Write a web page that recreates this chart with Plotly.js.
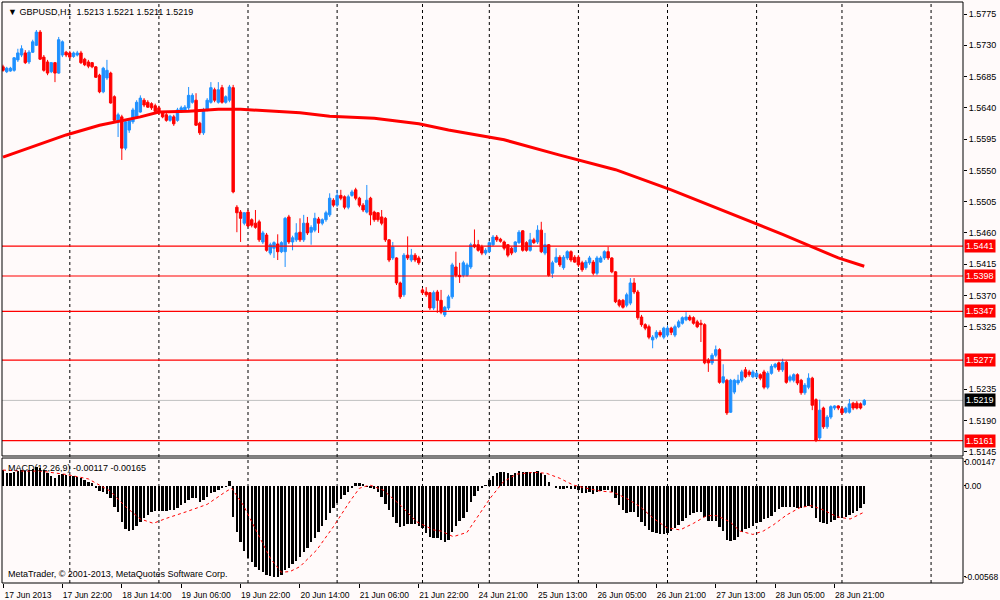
<!DOCTYPE html>
<html>
<head>
<meta charset="utf-8">
<script src="https://cdn.plot.ly/plotly-3.0.1.min.js"></script>
<style>html,body{margin:0;padding:0;background:#FFFAFA;}#chart{width:1000px;height:600px;}</style>
</head>
<body>
<div id="chart"></div>
<script>
// ---- Price data (GBPUSD H1), one value per bar ----
var openP = [1.5699,1.5692,1.5693,1.5694,1.5709,1.5716,1.5719,1.5706,1.5720,1.5730,
1.5749,1.5713,1.5706,1.5692,1.5705,1.5690,1.5716,1.5720,1.5719,1.5714,
1.5716,1.5719,1.5710,1.5706,1.5705,1.5699,1.5687,1.5663,1.5683,1.5690,
1.5656,1.5620,1.5627,1.5582,1.5608,1.5620,1.5627,1.5634,1.5651,1.5648,
1.5646,1.5643,1.5640,1.5633,1.5630,1.5622,1.5627,1.5622,1.5634,1.5635,
1.5640,1.5648,1.5651,1.5618,1.5604,1.5637,1.5648,1.5666,1.5648,1.5669,
1.5648,1.5651,1.5669,1.5497,1.5490,1.5474,1.5490,1.5479,1.5474,1.5476,
1.5447,1.5457,1.5431,1.5438,1.5444,1.5433,1.5433,1.5483,1.5447,1.5450,
1.5461,1.5450,1.5474,1.5461,1.5464,1.5480,1.5474,1.5479,1.5486,1.5507,
1.5500,1.5514,1.5512,1.5497,1.5514,1.5522,1.5510,1.5500,1.5490,1.5510,
1.5490,1.5489,1.5483,1.5481,1.5450,1.5424,1.5424,1.5388,1.5371,1.5428,
1.5421,1.5428,1.5424,1.5378,1.5375,1.5374,1.5352,1.5375,1.5363,1.5342,
1.5352,1.5368,1.5411,1.5399,1.5399,1.5399,1.5411,1.5443,1.5443,1.5440,
1.5431,1.5433,1.5443,1.5454,1.5451,1.5447,1.5443,1.5438,1.5433,1.5446,
1.5463,1.5446,1.5435,1.5450,1.5447,1.5464,1.5431,1.5443,1.5402,1.5418,
1.5425,1.5410,1.5424,1.5433,1.5425,1.5425,1.5417,1.5410,1.5417,1.5418,
1.5402,1.5418,1.5424,1.5433,1.5424,1.5404,1.5363,1.5363,1.5356,1.5359,
1.5388,1.5375,1.5339,1.5328,1.5325,1.5306,1.5310,1.5317,1.5310,1.5313,
1.5323,1.5313,1.5325,1.5330,1.5335,1.5339,1.5338,1.5332,1.5330,1.5328,
1.5277,1.5273,1.5284,1.5292,1.5245,1.5248,1.5202,1.5231,1.5244,1.5248,
1.5263,1.5260,1.5253,1.5253,1.5256,1.5260,1.5238,1.5258,1.5267,1.5273,
1.5263,1.5274,1.5248,1.5248,1.5256,1.5248,1.5230,1.5238,1.5251,1.5220,
1.5165,1.5208,1.5181,1.5195,1.5208,1.5211,1.5207,1.5202,1.5202,1.5215,
1.5215,1.5214,1.5213];
var highP = [1.5702,1.5699,1.5699,1.5713,1.5725,1.5730,1.5723,1.5723,1.5738,1.5752,
1.5752,1.5716,1.5709,1.5706,1.5706,1.5742,1.5737,1.5722,1.5722,1.5721,
1.5722,1.5722,1.5712,1.5709,1.5706,1.5700,1.5689,1.5699,1.5709,1.5692,
1.5658,1.5633,1.5630,1.5622,1.5625,1.5640,1.5651,1.5658,1.5654,1.5651,
1.5648,1.5646,1.5643,1.5635,1.5633,1.5630,1.5630,1.5640,1.5643,1.5644,
1.5670,1.5661,1.5661,1.5620,1.5640,1.5654,1.5677,1.5669,1.5677,1.5673,
1.5658,1.5673,1.5673,1.5500,1.5493,1.5490,1.5493,1.5481,1.5493,1.5479,
1.5463,1.5460,1.5446,1.5448,1.5458,1.5448,1.5483,1.5486,1.5456,1.5474,
1.5481,1.5486,1.5483,1.5471,1.5489,1.5483,1.5481,1.5492,1.5517,1.5510,
1.5522,1.5522,1.5514,1.5515,1.5522,1.5525,1.5512,1.5503,1.5529,1.5512,
1.5492,1.5490,1.5493,1.5483,1.5451,1.5447,1.5425,1.5390,1.5431,1.5455,
1.5437,1.5431,1.5427,1.5381,1.5382,1.5375,1.5377,1.5378,1.5378,1.5355,
1.5371,1.5417,1.5433,1.5417,1.5420,1.5417,1.5446,1.5465,1.5450,1.5443,
1.5438,1.5448,1.5457,1.5457,1.5453,1.5449,1.5444,1.5440,1.5448,1.5464,
1.5464,1.5448,1.5460,1.5453,1.5471,1.5476,1.5460,1.5444,1.5420,1.5438,
1.5428,1.5428,1.5435,1.5435,1.5428,1.5428,1.5420,1.5421,1.5427,1.5421,
1.5427,1.5427,1.5435,1.5440,1.5425,1.5405,1.5365,1.5365,1.5374,1.5395,
1.5395,1.5378,1.5342,1.5330,1.5328,1.5313,1.5320,1.5320,1.5325,1.5327,
1.5325,1.5328,1.5335,1.5340,1.5346,1.5342,1.5340,1.5335,1.5335,1.5330,
1.5280,1.5287,1.5298,1.5294,1.5271,1.5250,1.5250,1.5250,1.5256,1.5263,
1.5267,1.5263,1.5263,1.5261,1.5258,1.5263,1.5261,1.5271,1.5273,1.5275,
1.5279,1.5276,1.5256,1.5258,1.5258,1.5250,1.5244,1.5258,1.5253,1.5222,
1.5220,1.5210,1.5198,1.5212,1.5212,1.5212,1.5210,1.5210,1.5221,1.5217,
1.5218,1.5216,1.5221];
var lowP = [1.5692,1.5690,1.5692,1.5692,1.5706,1.5713,1.5703,1.5703,1.5719,1.5729,
1.5709,1.5692,1.5687,1.5690,1.5677,1.5689,1.5713,1.5713,1.5710,1.5712,
1.5714,1.5703,1.5700,1.5697,1.5697,1.5683,1.5661,1.5661,1.5680,1.5646,
1.5620,1.5598,1.5565,1.5579,1.5604,1.5617,1.5625,1.5633,1.5641,1.5640,
1.5637,1.5634,1.5630,1.5625,1.5620,1.5620,1.5614,1.5620,1.5633,1.5634,
1.5637,1.5646,1.5614,1.5601,1.5601,1.5635,1.5646,1.5648,1.5646,1.5646,
1.5646,1.5648,1.5517,1.5461,1.5447,1.5471,1.5468,1.5468,1.5466,1.5447,
1.5444,1.5433,1.5428,1.5424,1.5421,1.5431,1.5411,1.5444,1.5435,1.5447,
1.5447,1.5447,1.5457,1.5443,1.5461,1.5460,1.5471,1.5476,1.5483,1.5497,
1.5497,1.5507,1.5494,1.5494,1.5512,1.5507,1.5497,1.5490,1.5488,1.5471,
1.5476,1.5476,1.5471,1.5447,1.5418,1.5421,1.5385,1.5365,1.5368,1.5421,
1.5418,1.5418,1.5414,1.5371,1.5368,1.5349,1.5349,1.5345,1.5343,1.5339,
1.5349,1.5365,1.5396,1.5388,1.5396,1.5397,1.5408,1.5438,1.5433,1.5428,
1.5428,1.5431,1.5441,1.5447,1.5446,1.5435,1.5425,1.5428,1.5431,1.5444,
1.5433,1.5433,1.5433,1.5444,1.5444,1.5431,1.5428,1.5397,1.5395,1.5417,
1.5411,1.5407,1.5421,1.5418,1.5417,1.5411,1.5404,1.5407,1.5414,1.5399,
1.5399,1.5417,1.5421,1.5421,1.5402,1.5359,1.5353,1.5351,1.5353,1.5356,
1.5372,1.5335,1.5325,1.5320,1.5307,1.5294,1.5307,1.5310,1.5307,1.5310,
1.5313,1.5310,1.5323,1.5328,1.5333,1.5333,1.5328,1.5323,1.5303,1.5271,
1.5260,1.5270,1.5281,1.5243,1.5243,1.5198,1.5201,1.5228,1.5241,1.5245,
1.5251,1.5253,1.5251,1.5251,1.5248,1.5235,1.5235,1.5256,1.5265,1.5260,
1.5260,1.5243,1.5245,1.5245,1.5241,1.5227,1.5227,1.5235,1.5205,1.5159,
1.5161,1.5178,1.5178,1.5192,1.5205,1.5205,1.5198,1.5200,1.5200,1.5205,
1.5206,1.5206,1.5211];
var closeP = [1.5694,1.5697,1.5697,1.5712,1.5719,1.5725,1.5705,1.5720,1.5735,1.5749,
1.5710,1.5694,1.5690,1.5705,1.5690,1.5738,1.5735,1.5716,1.5713,1.5719,
1.5719,1.5705,1.5702,1.5700,1.5699,1.5684,1.5663,1.5697,1.5694,1.5647,
1.5622,1.5630,1.5582,1.5620,1.5622,1.5637,1.5648,1.5654,1.5644,1.5641,
1.5640,1.5635,1.5633,1.5627,1.5622,1.5628,1.5617,1.5637,1.5640,1.5641,
1.5658,1.5658,1.5615,1.5604,1.5637,1.5651,1.5669,1.5651,1.5666,1.5648,
1.5656,1.5670,1.5519,1.5489,1.5481,1.5489,1.5470,1.5471,1.5468,1.5450,
1.5460,1.5435,1.5443,1.5446,1.5433,1.5446,1.5481,1.5447,1.5453,1.5460,
1.5450,1.5474,1.5460,1.5468,1.5481,1.5474,1.5479,1.5489,1.5510,1.5500,
1.5514,1.5510,1.5497,1.5512,1.5519,1.5510,1.5500,1.5493,1.5507,1.5486,
1.5479,1.5479,1.5474,1.5450,1.5421,1.5440,1.5388,1.5368,1.5428,1.5424,
1.5428,1.5421,1.5417,1.5374,1.5371,1.5352,1.5374,1.5363,1.5346,1.5353,
1.5368,1.5414,1.5399,1.5397,1.5417,1.5414,1.5443,1.5440,1.5435,1.5431,
1.5435,1.5446,1.5454,1.5450,1.5448,1.5438,1.5428,1.5431,1.5447,1.5461,
1.5435,1.5435,1.5450,1.5446,1.5464,1.5433,1.5443,1.5399,1.5417,1.5425,
1.5414,1.5425,1.5433,1.5421,1.5418,1.5414,1.5407,1.5418,1.5424,1.5402,
1.5424,1.5424,1.5433,1.5424,1.5404,1.5361,1.5356,1.5353,1.5371,1.5388,
1.5375,1.5338,1.5328,1.5323,1.5310,1.5310,1.5317,1.5313,1.5323,1.5323,
1.5317,1.5325,1.5332,1.5338,1.5339,1.5335,1.5330,1.5325,1.5328,1.5273,
1.5273,1.5284,1.5292,1.5245,1.5253,1.5201,1.5248,1.5248,1.5248,1.5260,
1.5253,1.5256,1.5260,1.5258,1.5251,1.5238,1.5258,1.5268,1.5271,1.5263,
1.5274,1.5245,1.5253,1.5256,1.5244,1.5230,1.5241,1.5251,1.5212,1.5162,
1.5205,1.5181,1.5195,1.5210,1.5211,1.5208,1.5201,1.5208,1.5214,1.5208,
1.5208,1.5208,1.5219];

// ---- Moving average (thick red line), read at sample bars ----
var maIdx = [0,8,17,26,37,42,50,58,64,80,88,100,112,120,135,150,165,180,195,210,225,232];
var maVal = [1.5569,1.5584,1.5601,1.5615,1.5627,1.5634,1.5635,1.5638,1.5638,1.5633,1.5628,1.5625,1.5617,1.5608,1.5594,1.5572,1.5551,1.5522,1.5490,1.5458,1.5424,1.5412];

// ---- Horizontal levels ----
var levels = [1.5441,1.5398,1.5347,1.5277,1.5161];
var lastPrice = 1.5219;

// ---- MACD(12,26,9) histogram, one per bar ----
var macd = [0.00096,0.00076,0.00076,0.00082,0.00090,0.00096,0.00090,0.00096,0.00101,0.00117,
0.00111,0.00096,0.00076,0.00061,0.00049,0.00065,0.00069,0.00065,0.00061,0.00061,
0.00055,0.00045,0.00034,0.00024,0.00014,
-0.00013,-0.00034,-0.00042,-0.00055,-0.00080,-0.00131,-0.00162,-0.00225,-0.00270,-0.00283,
-0.00276,-0.00249,-0.00225,-0.00204,-0.00183,-0.00166,-0.00158,-0.00158,-0.00158,-0.00158,
-0.00152,-0.00152,-0.00137,-0.00121,-0.00111,-0.00090,-0.00076,-0.00080,-0.00104,-0.00090,
-0.00069,-0.00048,-0.00038,-0.00028,-0.00017,-0.00007,0.00030,
-0.00194,-0.00287,-0.00353,-0.00407,-0.00448,-0.00477,-0.00504,-0.00525,-0.00539,-0.00556,
-0.00562,-0.00568,-0.00568,-0.00556,-0.00525,-0.00510,-0.00490,-0.00469,-0.00442,-0.00411,
-0.00386,-0.00353,-0.00324,-0.00287,-0.00249,-0.00214,-0.00173,-0.00142,-0.00111,-0.00084,
-0.00059,-0.00038,-0.00017,
0.00014,0.00014,0.00007,-0.00007,-0.00013,-0.00021,-0.00042,-0.00069,-0.00117,-0.00152,
-0.00194,-0.00235,-0.00256,-0.00249,-0.00241,-0.00241,-0.00241,-0.00249,-0.00266,-0.00297,
-0.00318,-0.00324,-0.00328,
-0.00340,-0.00348,-0.00338,-0.00287,-0.00249,-0.00220,-0.00200,-0.00162,-0.00100,-0.00063,
-0.00034,-0.00013,0.00004,0.00034,0.00061,0.00076,0.00086,0.00082,0.00076,0.00065,
0.00076,0.00090,0.00086,0.00082,0.00082,0.00082,0.00090,0.00076,0.00065,0.00024,
-0.00003,-0.00013,-0.00021,-0.00021,-0.00017,-0.00021,-0.00021,-0.00028,-0.00048,-0.00048,
-0.00042,-0.00055,-0.00042,-0.00034,-0.00028,-0.00028,-0.00038,-0.00080,-0.00121,-0.00152,
-0.00173,-0.00162,-0.00162,-0.00194,-0.00225,-0.00249,-0.00276,-0.00291,-0.00297,-0.00304,
-0.00304,-0.00297,-0.00282,-0.00266,-0.00245,-0.00220,-0.00200,-0.00183,-0.00173,-0.00166,
-0.00162,-0.00194,-0.00220,-0.00220,-0.00220,-0.00256,-0.00282,-0.00338,-0.00344,-0.00338,
-0.00318,-0.00291,-0.00270,-0.00262,-0.00249,-0.00235,-0.00225,-0.00208,-0.00204,-0.00187,
-0.00166,-0.00145,-0.00131,-0.00131,-0.00131,-0.00131,-0.00137,-0.00137,-0.00131,-0.00125,
-0.00142,-0.00204,-0.00225,-0.00235,-0.00241,-0.00229,-0.00214,-0.00204,-0.00200,-0.00194,
-0.00183,-0.00173,-0.00160,-0.00142,-0.00117];

// ---- MACD signal (red dotted), read at sample bars ----
var sigIdx = [0,5,10,17,23,29,33,37,40.5,44,49.5,55,60,61.6,64.7,68.3,72,75,77.3,80,84.5,89,93.4,96,98.8,102.4,107,111.4,116,118,121.3,125,127.6,131.2,134.8,138.4,143,146.4,150,153.6,157.2,160.8,164.4,168,171.6,175.2,178.8,182.4,186,189.6,192.2,195.8,198.5,202,204.8,207.5,211.1,214.7,217.8,221,224.6,228.2,232];
var sigVal = [0.00096,0.00090,0.00090,0.00069,0.00041,-0.00036,-0.00131,-0.00208,-0.00235,-0.00204,-0.00162,-0.00117,-0.00038,-0.00017,-0.00121,-0.00287,-0.00452,-0.00539,-0.00535,-0.00504,-0.00401,-0.00256,-0.00100,-0.00017,0.00003,-0.00028,-0.00121,-0.00225,-0.00276,-0.00283,-0.00318,-0.00291,-0.00204,-0.00080,0.00024,0.00071,0.00082,0.00076,0.00045,0.00003,-0.00017,-0.00034,-0.00042,-0.00080,-0.00131,-0.00204,-0.00262,-0.00276,-0.00235,-0.00187,-0.00187,-0.00225,-0.00283,-0.00304,-0.00283,-0.00245,-0.00183,-0.00137,-0.00125,-0.00152,-0.00194,-0.00208,-0.00165];

// ---- Axis labels ----
var tickIdx = [0,16,32,48,64,80,96,112,128,144,160,176,192,208,224];
var tickText = ["17 Jun 2013","17 Jun 22:00","18 Jun 14:00","19 Jun 06:00","19 Jun 22:00","20 Jun 14:00","21 Jun 06:00","21 Jun 22:00","24 Jun 21:00","25 Jun 13:00","26 Jun 05:00","26 Jun 21:00","27 Jun 13:00","28 Jun 05:00","28 Jun 21:00"];
var dayLines = [18,42,66,90,113,131,155,179,203,226,250];
var priceTicks = [1.5775,1.5730,1.5685,1.5640,1.5595,1.5550,1.5505,1.5460,1.5415,1.5370,1.5325,1.5235,1.5190,1.5145];
var macdTicks = [0.00147,0,-0.00568];
var macdTickText = ["0.00147","0.00","-0.00568"];

var FONT = "Liberation Sans, Arial, sans-serif";
var idx = closeP.map(function(_, i){ return i; });

var traces = [
  {type:'candlestick', x:idx, open:openP, high:highP, low:lowP, close:closeP,
   xaxis:'x', yaxis:'y', whiskerwidth:0, hoverinfo:'skip',
   increasing:{line:{color:'#1E90FF', width:1}, fillcolor:'#1E90FF'},
   decreasing:{line:{color:'#FF0000', width:1}, fillcolor:'#FF0000'}},
  {type:'scatter', mode:'lines', x:maIdx, y:maVal, xaxis:'x', yaxis:'y',
   line:{color:'#FF0000', width:3}, hoverinfo:'skip'},
  {type:'bar', x:idx, y:macd, xaxis:'x', yaxis:'y2', width:0.64,
   marker:{color:'#000000', line:{width:0}}, hoverinfo:'skip'},
  {type:'scatter', mode:'lines', x:sigIdx, y:sigVal, xaxis:'x', yaxis:'y2',
   line:{color:'#FF0000', width:1, dash:'dot'}, hoverinfo:'skip'}
];

var mainDom = [0.2186, 1];
var macdDom = [0, 0.2151];

var shapes = [];
dayLines.forEach(function(d){
  shapes.push({type:'line', xref:'x', yref:'paper', x0:d, x1:d, y0:0, y1:1,
    line:{color:'#000000', width:1, dash:'dot'}, layer:'below'});
});
levels.forEach(function(v){
  shapes.push({type:'line', xref:'paper', yref:'y', x0:0, x1:1, y0:v, y1:v,
    line:{color:'#FF0000', width:1.2}, layer:'above'});
});
shapes.push({type:'line', xref:'paper', yref:'y', x0:0, x1:1, y0:lastPrice, y1:lastPrice,
  line:{color:'#C0C0C0', width:1}, layer:'below'});
shapes.push({type:'rect', xref:'paper', yref:'paper', x0:0, x1:1, y0:mainDom[0], y1:mainDom[1],
  line:{color:'#000000', width:1}, fillcolor:'rgba(0,0,0,0)'});
shapes.push({type:'rect', xref:'paper', yref:'paper', x0:0, x1:1, y0:macdDom[0], y1:macdDom[1],
  line:{color:'#000000', width:1}, fillcolor:'rgba(0,0,0,0)'});

var annotations = [];
levels.forEach(function(v){
  annotations.push({xref:'paper', yref:'y', x:1, y:v, xanchor:'left', yanchor:'middle',
    xshift:1, text:v.toFixed(4), showarrow:false, bgcolor:'#FF0000', borderpad:1,
    font:{family:FONT, size:9, color:'#FFFFFF'}});
});
annotations.push({xref:'paper', yref:'y', x:1, y:lastPrice, xanchor:'left', yanchor:'middle',
  xshift:1, text:lastPrice.toFixed(4), showarrow:false, bgcolor:'#000000', borderpad:1,
  font:{family:FONT, size:9, color:'#FFFFFF'}});
annotations.push({xref:'paper', yref:'paper', x:0, y:1, xanchor:'left', yanchor:'top',
  xshift:4, yshift:-3, showarrow:false,
  text:'\u25BC GBPUSD,H1\u00a0 1.5213 1.5221 1.5211 1.5219',
  font:{family:FONT, size:9, color:'#000000'}});
annotations.push({xref:'paper', yref:'paper', x:0, y:macdDom[1], xanchor:'left', yanchor:'top',
  xshift:4, yshift:-3, showarrow:false,
  text:'MACD(12,26,9) -0.00117 -0.00165',
  font:{family:FONT, size:9, color:'#000000'}});
annotations.push({xref:'paper', yref:'paper', x:0, y:0, xanchor:'left', yanchor:'bottom',
  xshift:4, yshift:2, showarrow:false,
  text:'MetaTrader, \u00a9 2001-2013, MetaQuotes Software Corp.',
  font:{family:FONT, size:9, color:'#000000'}});

var layout = {
  width:1000, height:600,
  margin:{l:2, r:37, t:2, b:17, pad:0},
  paper_bgcolor:'#FFFAFA', plot_bgcolor:'rgba(0,0,0,0)',
  showlegend:false, boxgap:0.35, boxgroupgap:0, bargap:0,
  font:{family:FONT, size:9, color:'#000000'},
  xaxis:{range:[-0.27, 258.6], anchor:'y2', tickmode:'array', tickvals:tickIdx, ticktext:tickText,
    ticks:'outside', ticklen:4, tickcolor:'#000000', showgrid:false, zeroline:false, showline:false,
    rangeslider:{visible:false}, tickfont:{family:FONT, size:8.5, color:'#000000'},
    ticklabelshift:25, fixedrange:true},
  yaxis:{domain:mainDom, range:[1.51390, 1.57923], side:'right', anchor:'x',
    tickmode:'array', tickvals:priceTicks, ticktext:priceTicks.map(function(t){return t.toFixed(4);}),
    ticks:'outside', ticklen:3, tickcolor:'#000000', showgrid:false, zeroline:false, showline:false,
    tickfont:{family:FONT, size:9, color:'#000000'}, fixedrange:true},
  yaxis2:{domain:macdDom, range:[-0.00606, 0.00171], side:'right', anchor:'x',
    tickmode:'array', tickvals:macdTicks, ticktext:macdTickText,
    ticks:'outside', ticklen:2, tickcolor:'#000000', showgrid:false, zeroline:false, showline:false,
    ticklabelstandoff:-3,
    tickfont:{family:FONT, size:8.5, color:'#000000'}, fixedrange:true},
  shapes:shapes, annotations:annotations
};

Plotly.newPlot('chart', traces, layout, {displayModeBar:false, staticPlot:true});
</script>
</body>
</html>
